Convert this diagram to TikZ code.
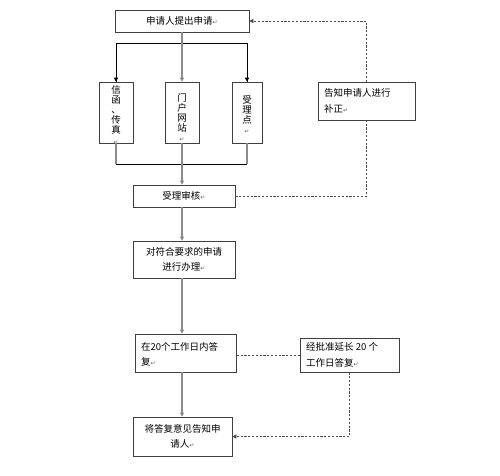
\documentclass[tikz,border=0pt]{standalone}
\usepackage{fontspec}
\newfontfamily\cjk{Noto Sans CJK SC}
\newfontfamily\retfont{DejaVu Sans}
\usetikzlibrary{arrows.meta}
\newcommand{\myret}{{\retfont\fontsize{6}{6}\selectfont\textcolor{black!60}{↵}}}
\begin{document}
\begin{tikzpicture}[x=1pt,y=-1pt,
  box/.style={draw=black!75, line width=0.6pt, inner sep=0pt, minimum width=#1, anchor=center},
  txt/.style={font=\cjk\fontsize{9.5}{15.5}\selectfont, inner sep=0pt},
  vtxt/.style={font=\cjk\fontsize{9.5}{10.2}\selectfont, inner sep=0pt, align=center, anchor=north},
  sline/.style={draw=black!45, line width=1.1pt},
  bline/.style={draw=black, line width=0.7pt},
  dline/.style={draw=black!70, line width=0.6pt, dash pattern=on 2.2pt off 1.6pt},
  tip/.style={-{Triangle[length=4pt,width=4pt]}}
]
\useasboundingbox (0,0) rectangle (500,475);
\fill[white] (0,0) rectangle (500,475);

% boxes
\node[box=134pt, minimum height=22pt] (apply) at (182,21) {};
\node[txt] at (apply.center) {申请人提出申请\myret};

\node[box=34pt, minimum height=61pt] (mail) at (116,112.5) {};
\node[vtxt] at (116,85) {信\\函\\、\\传\\真\\\myret};
\node[box=34pt, minimum height=61pt] (web) at (182,112.5) {};
\node[vtxt] at (182,93) {门\\户\\网\\站\\\myret};
\node[box=30pt, minimum height=61pt] (point) at (247,112.5) {};
\node[vtxt] at (247,95) {受\\理\\点\\\myret};

\node[box=102pt, minimum height=22pt] (review) at (184,196) {};
\node[txt] at (review.center) {受理审核\myret};

\node[box=102pt, minimum height=37pt] (handle) at (184,259.5) {};
\node[txt, align=center] at (handle.center) {对符合要求的申请\\进行办理\myret};

\node[box=101pt, minimum height=38pt] (reply) at (185.5,353) {};
\node[txt, align=left, anchor=west] at (141,354.5) {在20个工作日内答\\复\myret};

\node[box=99pt, minimum height=39pt] (inform) at (182.5,436.5) {};
\node[txt, align=center] at (inform.center) {将答复意见告知申\\请人\myret};

\node[box=99pt, minimum height=34pt] (extend) at (349.5,355) {};
\node[txt, align=left, anchor=west] at (306,355) {经批准延长 20 个\\工作日答复\myret};

\node[box=97pt, minimum height=38pt] (correct) at (366.5,101) {};
\node[txt, align=left, anchor=west] at (324,101) {告知申请人进行\\补正\myret};

% connectors
\coordinate (bus) at (182,43);
\coordinate (bus2) at (182,164);
\coordinate (cx) at (182,0);

\draw[sline] (apply.south) -- (bus);
\draw[bline] (bus) -| (mail.north);
\draw[bline] (bus) -| (point.north);
\draw[bline, tip] (bus) -| (mail.north);
\draw[bline, tip] (bus) -| (point.north);
\draw[sline, tip] (bus) -- (web.north);

\draw[sline] (mail.south) -- (mail.south |- bus2);
\draw[sline] (point.south) -- (point.south |- bus2);
\draw[bline] (mail.south |- bus2) -- (point.south |- bus2);
\draw[sline] (web.south) -- (bus2);
\draw[sline, tip] (bus2) -- (bus2 |- review.north);

\draw[sline, tip] (cx |- review.south) -- (cx |- handle.north);
\draw[sline, tip] (cx |- handle.south) -- (cx |- reply.north);
\draw[sline, tip] (cx |- reply.south) -- (cx |- inform.north);

\draw[dline] (review.east) -| (correct.south);
\draw[dline, tip] (correct.north) |- (apply.east);
\draw[dline] (extend.west) -- (extend.west -| reply.east);
\draw[dline, tip] (extend.south) |- (inform.east);
\end{tikzpicture}
\end{document}
